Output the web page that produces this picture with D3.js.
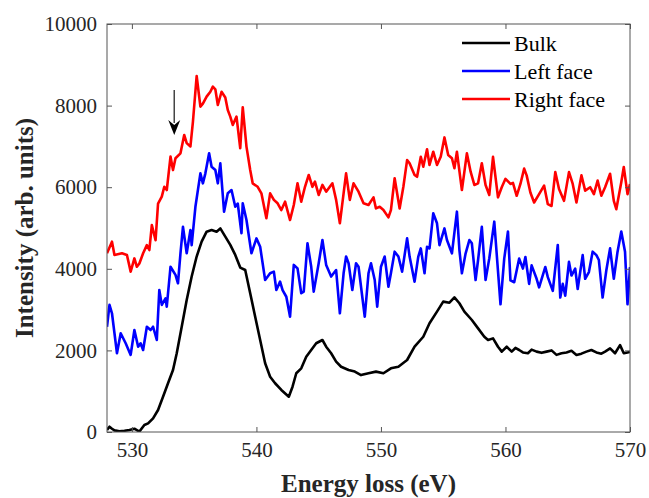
<!DOCTYPE html>
<html>
<head>
<meta charset="utf-8">
<title>EELS O K-edge</title>
<script src="https://d3js.org/d3.v7.min.js"></script>
<style>
  body { margin: 0; background: #fff; }
  text { font-family: "Liberation Serif", "Times New Roman", serif; fill: #262626; }
  .tick line { stroke: #555; }
  .domain { display: none; }
</style>
</head>
<body>
<svg id="graph" width="649" height="498"></svg>
<script>
// x ticks / y ticks
var xTicks = [530, 540, 550, 560, 570]
var yTicks = [0, 2000, 4000, 6000, 8000, 10000]

// [energy (eV), intensity]
var bulk = [[528.0,50],[528.2,130],[528.4,80],[528.6,40],[529.0,20],[529.4,30],[529.8,50],[530.2,80],[530.6,10],
  [531.0,170],[531.3,210],[531.7,335],[532.1,540],[532.5,865],[532.9,1195],[533.3,1520],[533.6,1930],[534.0,2580],
  [534.4,3235],[534.8,3810],[535.2,4300],[535.6,4665],[536.0,4910],[536.4,4950],[536.8,4910],[537.1,4990],[537.5,4790],
  [537.9,4585],[538.3,4340],[538.7,4030],[539.1,3970],[539.5,3400],[539.9,2825],[540.3,2255],[540.7,1685],[541.1,1355],
  [541.5,1195],[542.0,1030],[542.6,865],[542.9,1110],[543.2,1440],[543.6,1560],[544.0,1845],[544.4,2010],[544.8,2175],
  [545.3,2255],[545.6,2090],[546.0,1930],[546.4,1725],[546.8,1600],[547.4,1520],[547.9,1480],[548.4,1395],[549.0,1440],
  [549.6,1480],[550.2,1440],[550.8,1560],[551.4,1600],[552.1,1765],[552.7,2090],[553.4,2335],[553.9,2665],[554.5,2950],
  [555.0,3195],[555.5,3170],[555.9,3300],[556.3,3155],[556.7,2950],[557.3,2745],[557.8,2540],[558.3,2335],[558.6,2255],
  [559.0,2295],[559.4,2090],[559.7,1970],[560.1,2090],[560.5,1970],[560.8,2060],[561.1,2010],[561.4,1950],[561.8,1930],
  [562.1,2020],[562.5,1970],[562.9,1940],[563.3,1970],[563.7,2000],[564.1,1890],[564.5,1930],[564.9,1950],[565.3,1990],
  [565.7,1890],[566.1,1920],[566.5,1970],[566.9,2010],[567.3,1950],[567.7,1920],[568.0,1970],[568.4,2050],[568.8,1930],
  [569.2,2130],[569.5,1930],[569.8,1950],[570.0,1960]]

var leftFace = [[528.0,2580],[528.2,3115],[528.4,2910],[528.8,1930],[529.1,2420],[529.5,2175],[529.9,1890],[530.2,2500],
  [530.5,2090],[530.7,2175],[530.9,2010],[531.2,2580],[531.5,2500],[531.7,2580],[532.0,2255],[532.2,3480],[532.4,3115],
  [532.7,3275],[532.8,3070],[533.1,4050],[533.5,3850],[533.7,3645],[533.9,4380],[534.1,5030],[534.4,4380],[534.7,4950],
  [534.8,4580],[535.1,5520],[535.5,6340],[535.7,6095],[535.9,6340],[536.2,6830],[536.4,6500],[536.7,6420],[536.9,6095],
  [537.1,6585],[537.4,5400],[537.7,5850],[538.0,5930],[538.3,5520],[538.5,5600],[538.8,4870],[538.9,5605],[539.2,5195],
  [539.6,4380],[540.0,4745],[540.3,4540],[540.7,3725],[541.1,3890],[541.4,3930],[541.6,3480],[541.9,3685],[542.1,3480],
  [542.4,3315],[542.7,2825],[543.0,4095],[543.3,4010],[543.6,3400],[543.8,3440],[544.1,4625],[544.4,4050],[544.6,3440],
  [545.0,4135],[545.3,4705],[545.6,4095],[546.0,3810],[546.4,3970],[546.7,2910],[547.0,3890],[547.2,4300],[547.4,4135],
  [547.7,3480],[548.0,4135],[548.2,4050],[548.7,2825],[549.0,3890],[549.2,4135],[549.5,3725],[549.7,3070],[550.0,4050],
  [550.3,4300],[550.6,3560],[550.8,3890],[551.1,4420],[551.4,4300],[551.7,3930],[552.1,4745],[552.3,4300],[552.7,3685],
  [553.0,4300],[553.2,4500],[553.5,3890],[553.7,4540],[553.9,4500],[554.2,5360],[554.5,5115],[554.7,4580],[555.1,4990],
  [555.3,4705],[555.7,4380],[556.1,5400],[556.3,4460],[556.5,3890],[556.8,4380],[557.1,4705],[557.3,4625],[557.6,3725],
  [557.8,4215],[558.1,5030],[558.4,3725],[558.7,4255],[559.1,5155],[559.6,3130],[559.9,4250],[560.2,4915],[560.4,3715],
  [560.7,3670],[561.1,4250],[561.4,4005],[561.6,4290],[561.9,3630],[562.1,4085],[562.5,3755],[562.7,3545],[563.2,4045],
  [563.4,3795],[563.8,3460],[564.2,4585],[564.4,3295],[564.6,3630],[564.8,3340],[565.1,4170],[565.3,3835],[565.6,4005],
  [565.8,3505],[566.2,4335],[566.4,3755],[566.7,3920],[567.0,4420],[567.3,4335],[567.5,4215],[567.8,3295],[568.1,3965],
  [568.4,4500],[568.7,3755],[569.0,4420],[569.3,4915],[569.6,4420],[569.8,3130],[570.0,4045]]

var rightFace = [[528.0,4380],[528.4,4665],[528.6,4340],[529.2,4380],[529.6,4340],[529.9,3930],[530.2,4255],[530.4,4050],
  [530.6,4130],[530.9,4380],[531.2,4580],[531.4,4460],[531.6,5070],[531.9,4700],[532.1,5600],[532.4,5770],[532.6,6010],
  [532.8,5930],[533.1,6750],[533.3,6420],[533.5,6710],[533.9,6830],[534.2,7280],[534.4,7080],[534.7,7000],[534.9,7600],
  [535.2,8725],[535.5,7975],[535.7,8050],[536.0,8220],[536.3,8340],[536.5,8465],[536.7,8400],[536.9,8015],[537.2,8340],
  [537.5,8200],[537.7,7890],[537.9,7730],[538.1,7525],[538.4,7730],[538.7,6955],[538.9,7960],[539.2,6995],[539.5,6420],
  [539.7,6095],[540.1,6010],[540.4,5850],[540.8,5240],[541.1,5850],[541.4,5690],[541.7,5605],[542.0,5440],[542.3,5645],
  [542.7,5195],[543.0,5565],[543.3,6095],[543.6,5645],[543.9,6010],[544.2,6300],[544.5,6010],[544.7,6135],[545.0,5810],
  [545.3,6055],[545.6,5890],[546.1,6095],[546.4,5690],[546.7,5115],[547.0,5850],[547.2,6340],[547.5,5690],[547.8,6095],
  [548.2,5890],[548.6,5605],[549.0,5565],[549.4,5750],[549.6,5480],[549.9,5520],[550.2,5440],[550.6,5260],[550.8,5440],
  [551.1,6220],[551.5,5480],[551.8,6010],[552.1,6665],[552.3,6585],[552.7,6300],[552.9,6255],[553.2,6745],[553.4,6500],
  [553.7,6930],[553.9,6545],[554.2,6870],[554.5,6545],[554.8,6745],[555.1,7220],[555.4,6790],[555.7,6710],[555.9,6465],
  [556.1,6870],[556.5,5930],[556.9,6830],[557.2,6380],[557.5,6055],[557.8,6095],[558.1,6585],[558.4,6055],[558.7,5810],
  [559.0,6745],[559.4,5750],[559.7,6000],[560.0,6205],[560.4,6080],[560.6,6105],[560.9,5790],[561.2,6080],[561.5,6455],
  [561.7,6290],[562.0,5870],[562.3,5625],[562.7,5830],[563.1,6040],[563.4,5585],[563.7,5540],[564.0,6370],[564.3,5955],
  [564.7,5665],[565.1,6370],[565.4,6080],[565.7,5625],[566.1,6290],[566.4,5915],[566.8,6000],[567.1,5830],[567.4,6165],
  [567.7,5790],[568.0,6000],[568.4,6330],[568.7,5665],[568.9,5460],[569.3,6120],[569.5,6495],[569.8,5830],[570.0,6080]]

var seriesNames = ["Bulk", "Left face", "Right face"]
var seriesColors = ["#000000", "#0000ff", "#ff0000"]
var allSeries = [bulk, leftFace, rightFace]

// arrow marking the pre-edge shoulder
var arrowE = 533.4, arrowFrom = 8380, arrowTo = 7280

var svg = d3.select("#graph")
var plotL = 107, plotR = 630, plotT = 24, plotB = 432

var x = d3.scaleLinear().domain([528, 570]).range([plotL, plotR])
var y = d3.scaleLinear().domain([0, 10000]).range([plotB, plotT])

svg.append("rect").attr("width", 649).attr("height", 498).attr("fill", "#fff")

svg.append("clipPath").attr("id", "clip")
  .append("rect").attr("x", plotL).attr("y", plotT).attr("width", plotR - plotL).attr("height", plotB - plotT)

var line = d3.line().x(d => x(d[0])).y(d => y(d[1]))

svg.append("g").attr("clip-path", "url(#clip)")
  .selectAll("path").data(allSeries).enter().append("path")
  .attr("d", line)
  .attr("fill", "none")
  .attr("stroke", (d, i) => seriesColors[i])
  .attr("stroke-width", 2.6)
  .attr("stroke-linejoin", "round")

// axes, ticks pointing inwards on all four sides
svg.append("g").attr("transform", "translate(0," + plotB + ")")
  .call(d3.axisBottom(x).tickValues(xTicks).tickFormat(d3.format("d")).tickSizeInner(-5).tickSizeOuter(0).tickPadding(10))
  .selectAll("text").style("font-size", "21px")
svg.append("g").attr("transform", "translate(0," + plotT + ")")
  .call(d3.axisTop(x).tickValues(xTicks).tickSizeInner(-5).tickSizeOuter(0).tickFormat(""))
svg.append("g").attr("transform", "translate(" + plotL + ",0)")
  .call(d3.axisLeft(y).tickValues(yTicks).tickFormat(d3.format("d")).tickSizeInner(-5).tickSizeOuter(0).tickPadding(10))
  .selectAll("text").style("font-size", "21px")
svg.append("g").attr("transform", "translate(" + plotR + ",0)")
  .call(d3.axisRight(y).tickValues(yTicks).tickSizeInner(-5).tickSizeOuter(0).tickFormat(""))

svg.append("rect")
  .attr("x", plotL).attr("y", plotT).attr("width", plotR - plotL).attr("height", plotB - plotT)
  .attr("fill", "none").attr("stroke", "#555").attr("stroke-width", 1)

// axis titles
svg.append("text")
  .attr("x", (plotL + plotR) / 2).attr("y", 492)
  .attr("text-anchor", "middle")
  .style("font-size", "25px").style("font-weight", "bold")
  .text("Energy loss (eV)")
svg.append("text")
  .attr("transform", "translate(33," + (plotT + plotB) / 2 + ") rotate(-90)")
  .attr("text-anchor", "middle")
  .style("font-size", "25px").style("font-weight", "bold")
  .text("Intensity (arb. units)")

// arrow
svg.append("line")
  .attr("x1", x(arrowE)).attr("x2", x(arrowE))
  .attr("y1", y(arrowFrom)).attr("y2", y(arrowTo) - 12)
  .attr("stroke", "#444").attr("stroke-width", 1.5)
var ax = x(arrowE), ay = y(arrowTo)
svg.append("path")
  .attr("d", "M" + ax + "," + ay + " L" + (ax - 6) + "," + (ay - 15) + " L" + ax + "," + (ay - 10) + " L" + (ax + 6) + "," + (ay - 15) + " Z")
  .attr("fill", "#000")

// legend
var legend = svg.append("g").attr("transform", "translate(462,43)")
seriesNames.forEach(function (name, i) {
  var g = legend.append("g").attr("transform", "translate(0," + i * 28 + ")")
  g.append("line").attr("x1", 0).attr("x2", 48).attr("y1", 0).attr("y2", 0)
    .attr("stroke", seriesColors[i]).attr("stroke-width", 2.6)
  g.append("text").attr("x", 52).attr("y", 8)
    .style("font-size", "22px").style("fill", "#000")
    .text(name)
})
</script>
</body>
</html>
